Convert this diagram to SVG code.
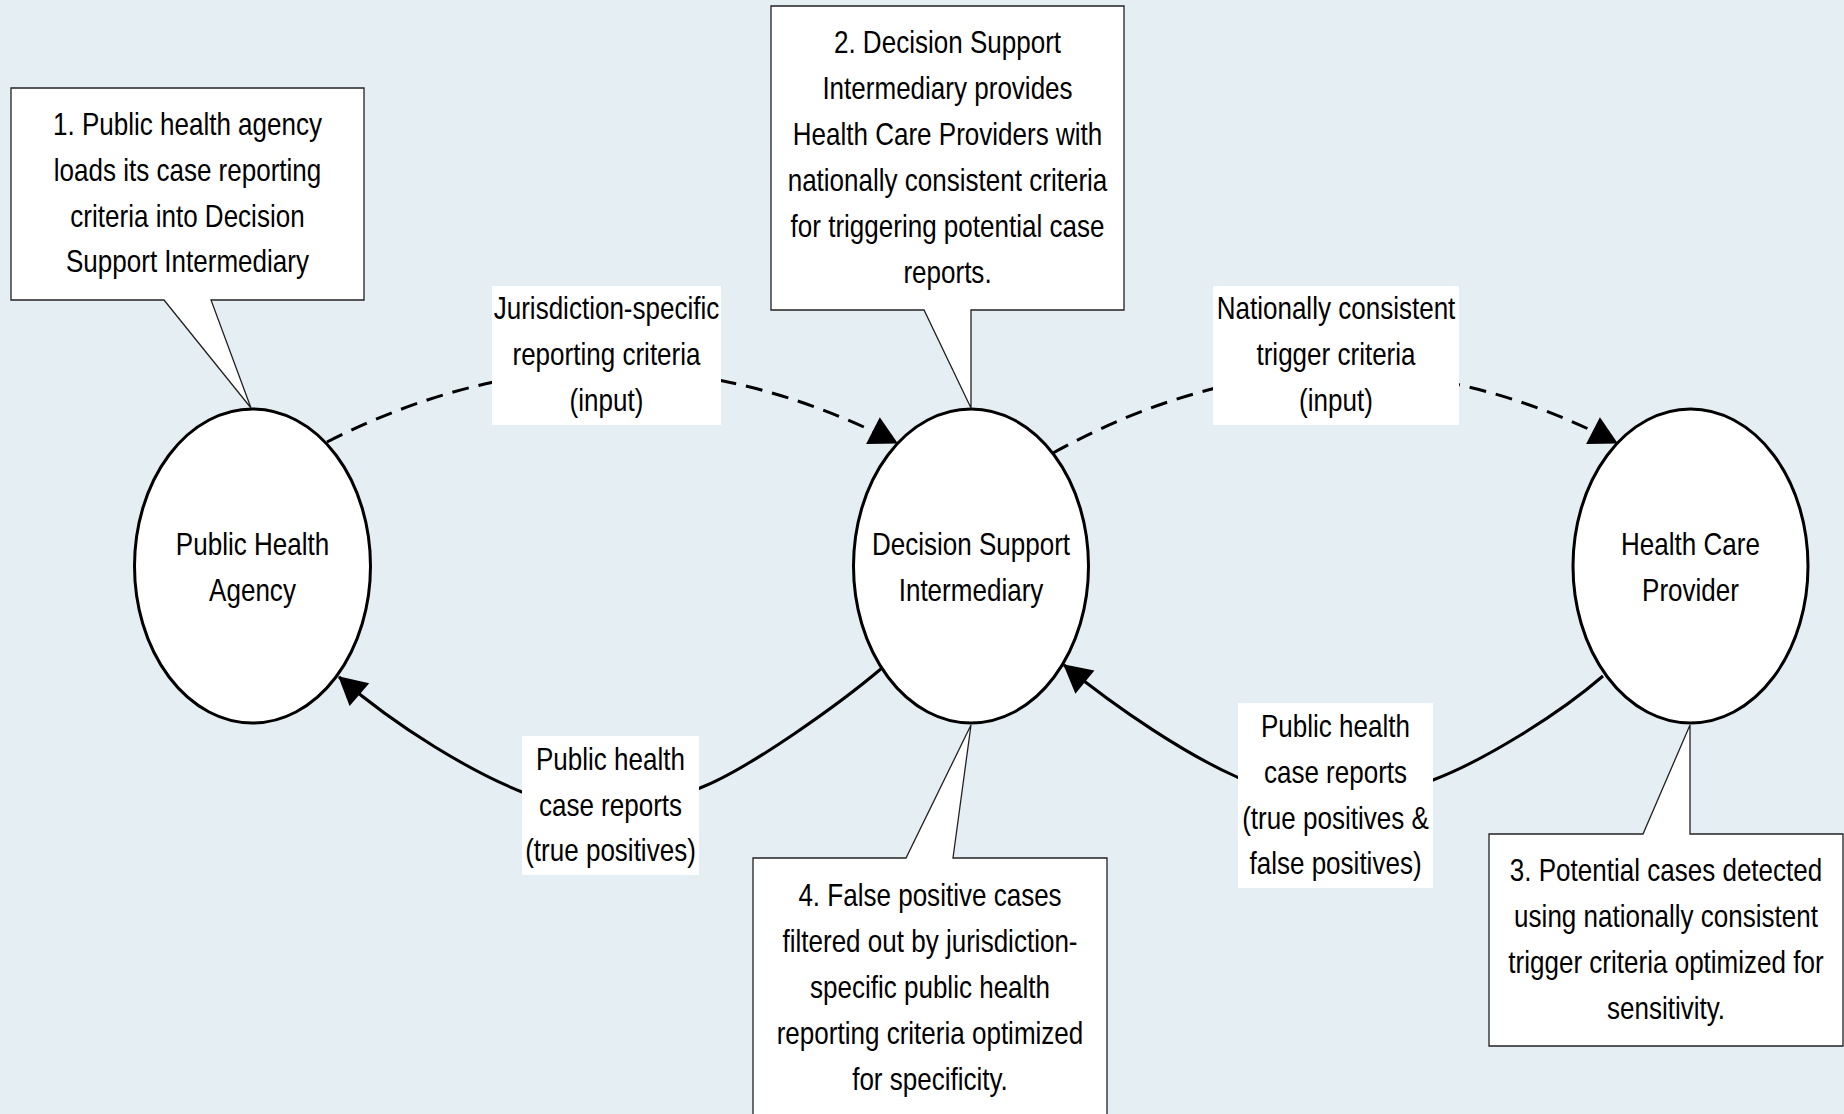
<svg xmlns="http://www.w3.org/2000/svg" width="1844" height="1114" viewBox="0 0 1844 1114">
<style>
text{font-family:"Liberation Sans",Arial,sans-serif;font-size:31px;fill:#000;text-anchor:middle}
.node{fill:#fff;stroke:#000;stroke-width:3}
.callout{fill:#fff;stroke:#222;stroke-width:1.3}
.lbl{fill:#fff;stroke:none}
.dash{fill:none;stroke:#000;stroke-width:3;stroke-dasharray:17 10}
.solid{fill:none;stroke:#000;stroke-width:3}
</style>
<defs>
<marker id="arr" markerUnits="userSpaceOnUse" markerWidth="28" markerHeight="30" refX="27" refY="15" orient="auto" overflow="visible">
<path d="M0,0 L28,15 L0,30 z" fill="#000"/>
</marker>
</defs>
<rect x="0" y="0" width="1844" height="1114" fill="#E5EEF2"/>

<g id="connectors">
<path class="dash" d="M327,442 Q612,297 897,443" marker-end="url(#arr)"/>
<path class="dash" d="M1053,453 Q1335,297 1617,443" marker-end="url(#arr)"/>
<path class="solid" d="M882,668 C842,702 750,768.5 700,788 C650,807.5 572,812 522,792 C472,772 399,729 339,677" marker-end="url(#arr)"/>
<path class="solid" d="M1603,676 C1558,715 1483,761 1433,780 C1383,799 1287,797 1237,777 C1187,755 1119,710 1064,665" marker-end="url(#arr)"/>
</g>

<g id="label-jurisdiction">
<rect class="lbl" x="492" y="286" width="229" height="139"/>
<g transform="translate(606.5 0) scale(0.84 1)">
<text x="0" y="319">Jurisdiction-specific</text>
<text x="0" y="365">reporting criteria</text>
<text x="0" y="411">(input)</text>
</g>
</g>
<g id="label-national">
<rect class="lbl" x="1213" y="286" width="246" height="139"/>
<g transform="translate(1336 0) scale(0.84 1)">
<text x="0" y="319">Nationally consistent</text>
<text x="0" y="365">trigger criteria</text>
<text x="0" y="411">(input)</text>
</g>
</g>
<g id="label-true-positives">
<rect class="lbl" x="522" y="736" width="177" height="139"/>
<g transform="translate(610.5 0) scale(0.84 1)">
<text x="0" y="770">Public health</text>
<text x="0" y="816">case reports</text>
<text x="0" y="861">(true positives)</text>
</g>
</g>
<g id="label-true-false-positives">
<rect class="lbl" x="1238" y="703" width="195" height="185"/>
<g transform="translate(1335.5 0) scale(0.84 1)">
<text x="0" y="737">Public health</text>
<text x="0" y="783">case reports</text>
<text x="0" y="829">(true positives &amp;</text>
<text x="0" y="874">false positives)</text>
</g>
</g>

<g id="node-pha">
<ellipse class="node" cx="252.5" cy="566" rx="118" ry="157"/>
<g transform="translate(252.5 0) scale(0.84 1)">
<text x="0" y="555">Public Health</text>
<text x="0" y="601">Agency</text>
</g>
</g>
<g id="node-dsi">
<ellipse class="node" cx="971" cy="566" rx="117.5" ry="157"/>
<g transform="translate(971 0) scale(0.84 1)">
<text x="0" y="555">Decision Support</text>
<text x="0" y="601">Intermediary</text>
</g>
</g>
<g id="node-hcp">
<ellipse class="node" cx="1690.5" cy="566" rx="117.5" ry="157"/>
<g transform="translate(1690.5 0) scale(0.84 1)">
<text x="0" y="555">Health Care</text>
<text x="0" y="601">Provider</text>
</g>
</g>

<g id="callout-1">
<path class="callout" d="M11,88 H364 V300 H211 L251,408 L164,300 H11 Z"/>
<g transform="translate(187.5 0) scale(0.84 1)">
<text x="0" y="135">1. Public health agency</text>
<text x="0" y="181">loads its case reporting</text>
<text x="0" y="227">criteria into Decision</text>
<text x="0" y="272">Support Intermediary</text>
</g>
</g>
<g id="callout-2">
<path class="callout" d="M771,6 H1124 V310 H971 V408 L924,310 H771 Z"/>
<g transform="translate(947.5 0) scale(0.84 1)">
<text x="0" y="53">2. Decision Support</text>
<text x="0" y="99">Intermediary provides</text>
<text x="0" y="145">Health Care Providers with</text>
<text x="0" y="191">nationally consistent criteria</text>
<text x="0" y="237">for triggering potential case</text>
<text x="0" y="283">reports.</text>
</g>
</g>
<g id="callout-3">
<path class="callout" d="M1489,834 H1643 L1690,725 V834 H1843 V1046 H1489 Z"/>
<g transform="translate(1666 0) scale(0.84 1)">
<text x="0" y="881">3. Potential cases detected</text>
<text x="0" y="927">using nationally consistent</text>
<text x="0" y="973">trigger criteria optimized for</text>
<text x="0" y="1019">sensitivity.</text>
</g>
</g>
<g id="callout-4">
<path class="callout" d="M753,858 H906 L971,725 L953,858 H1107 V1130 H753 Z"/>
<g transform="translate(930 0) scale(0.84 1)">
<text x="0" y="906">4. False positive cases</text>
<text x="0" y="952">filtered out by jurisdiction-</text>
<text x="0" y="998">specific public health</text>
<text x="0" y="1044">reporting criteria optimized</text>
<text x="0" y="1090">for specificity.</text>
</g>
</g>
</svg>
